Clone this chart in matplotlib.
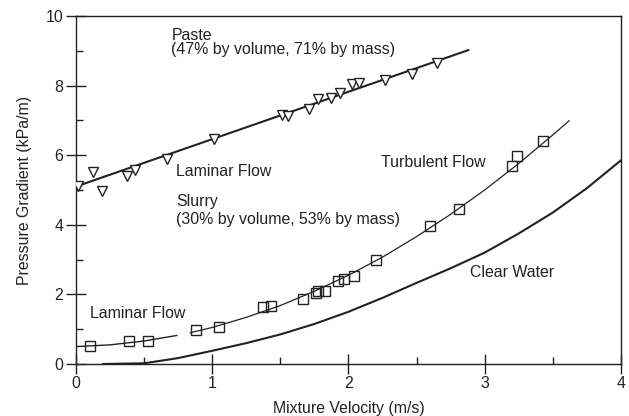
import matplotlib
matplotlib.use("Agg")
import matplotlib.pyplot as plt
from matplotlib.ticker import MultipleLocator

plt.rcParams['font.family'] = ['Liberation Sans', 'DejaVu Sans']

# Paste data (open down-triangles)
paste_x = [0.015, 0.125, 0.19, 0.375, 0.43, 0.67, 1.01, 1.51, 1.56, 1.71, 1.78, 1.87,
           1.94, 2.03, 2.08, 2.27, 2.47, 2.65]
paste_y = [5.11, 5.52, 4.97, 5.40, 5.57, 5.89, 6.47, 7.15, 7.12, 7.32, 7.61, 7.65,
           7.79, 8.05, 8.07, 8.16, 8.33, 8.65]
paste_fit_x = [0.0, 2.88]
paste_fit_y = [5.10, 9.02]

# Slurry data (open squares)
slurry_x = [0.10, 0.39, 0.53, 0.88, 1.05, 1.37, 1.43, 1.67, 1.76, 1.78, 1.83, 1.92,
            1.97, 2.04, 2.20, 2.60, 2.81, 3.20, 3.24, 3.43]
slurry_y = [0.52, 0.66, 0.66, 0.98, 1.06, 1.64, 1.67, 1.87, 2.04, 2.10, 2.10, 2.38,
            2.44, 2.53, 2.99, 3.97, 4.45, 5.69, 5.98, 6.41]
# laminar part of slurry curve
slurry_lam_x = [0.0, 0.25, 0.5, 0.74]
slurry_lam_y = [0.50, 0.55, 0.66, 0.82]
# remaining slurry curve
slurry_fit_x = [0.84, 1.0, 1.25, 1.5, 1.75, 2.0, 2.25, 2.5, 2.75, 3.0, 3.25, 3.5, 3.62]
slurry_fit_y = [0.90, 1.05, 1.34, 1.68, 2.09, 2.55, 3.07, 3.66, 4.30, 5.00, 5.76, 6.58, 6.99]

# Clear water curve
water_x = [0.2, 0.5, 0.75, 1.0, 1.25, 1.5, 1.75, 2.0, 2.25, 2.5, 2.75, 3.0, 3.25, 3.5, 3.75, 4.0]
water_y = [0.0, 0.02, 0.17, 0.38, 0.60, 0.85, 1.15, 1.50, 1.90, 2.33, 2.75, 3.20, 3.75, 4.35, 5.05, 5.85]

x_ticks = [0, 1, 2, 3, 4]
y_ticks = [0, 2, 4, 6, 8, 10]

ink = '#222222'
fig = plt.figure(figsize=(6.29, 4.16), dpi=100)
ax = fig.add_axes([0.1208, 0.125, 0.8662, 0.8365])

ax.plot(paste_fit_x, paste_fit_y, color=ink, lw=1.5, zorder=2)
ax.plot(paste_x, paste_y, linestyle='none', marker='v', ms=6.5, mfc='white',
        mec=ink, mew=1.0, zorder=3)

ax.plot(slurry_lam_x, slurry_lam_y, color=ink, lw=1.0, zorder=2)
ax.plot(slurry_fit_x, slurry_fit_y, color=ink, lw=0.9, zorder=2)
ax.plot(slurry_x, slurry_y, linestyle='none', marker='s', ms=7, mfc='none',
        mec=ink, mew=1.0, zorder=3)

ax.plot(water_x, water_y, color=ink, lw=1.5, zorder=2)

fs = 11.4
ax.text(0.70, 9.45, "Paste", fontsize=fs, color=ink, va='center', ha='left')
ax.text(0.70, 9.05, "(47% by volume, 71% by mass)", fontsize=fs, color=ink,
        va='center', ha='left')
ax.text(0.735, 5.52, "Laminar Flow", fontsize=fs, color=ink, va='center', ha='left')
ax.text(0.735, 4.66, "Slurry", fontsize=fs, color=ink, va='center', ha='left')
ax.text(0.735, 4.14, "(30% by volume, 53% by mass)", fontsize=fs, color=ink,
        va='center', ha='left')
ax.text(2.24, 5.80, "Turbulent Flow", fontsize=fs, color=ink, va='center', ha='left')
ax.text(0.10, 1.44, "Laminar Flow", fontsize=fs, color=ink, va='center', ha='left')
ax.text(2.89, 2.64, "Clear Water", fontsize=fs, color=ink, va='center', ha='left')

ax.set_xlim(0, 4)
ax.set_ylim(0, 10)
ax.set_xticks(x_ticks)
ax.set_yticks(y_ticks)
ax.xaxis.set_minor_locator(MultipleLocator(0.5))
ax.yaxis.set_minor_locator(MultipleLocator(1))
ax.tick_params(which='major', direction='inout', length=14, width=1.0, colors=ink,
               labelsize=fs, pad=2)
ax.tick_params(which='minor', direction='in', length=5, width=1.0, colors=ink)
for s in ax.spines.values():
    s.set_color(ink)
    s.set_linewidth(1.0)

ax.set_xlabel("Mixture Velocity (m/s)", fontsize=fs, color=ink, labelpad=7)
ax.set_ylabel("Pressure Gradient (kPa/m)", fontsize=fs, color=ink, labelpad=10)

fig.savefig("out.png", dpi=100)
